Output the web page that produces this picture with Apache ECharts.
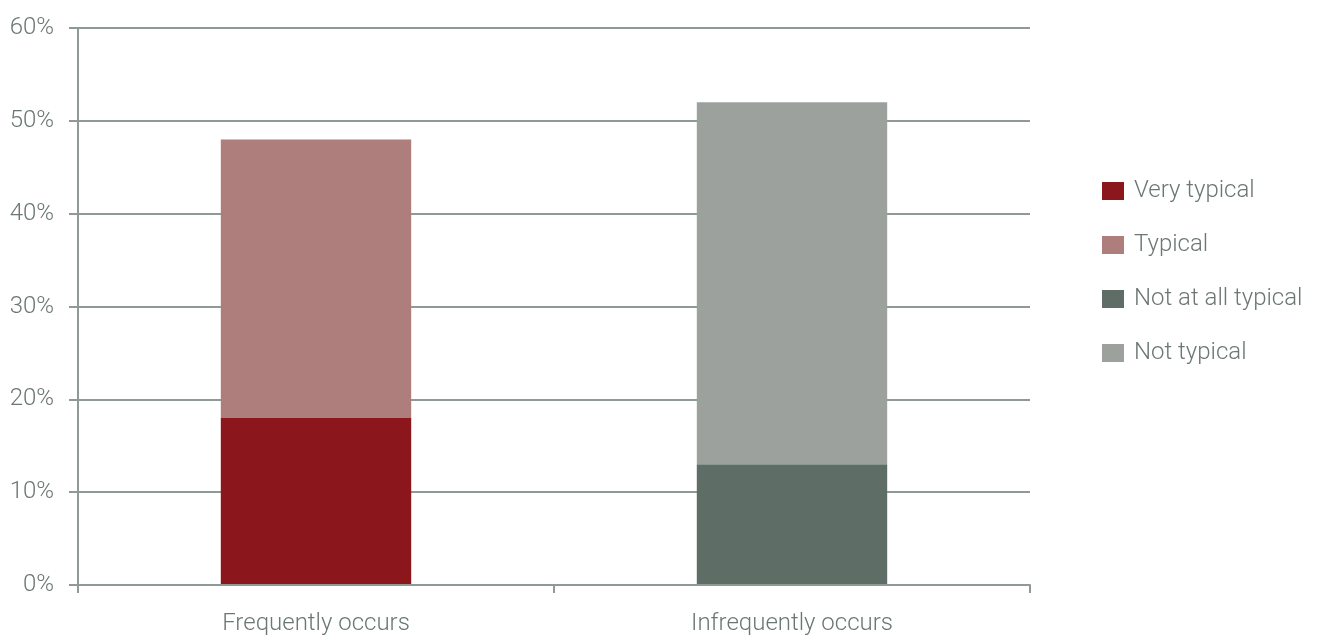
<!DOCTYPE html>
<html>
<head>
<meta charset="utf-8">
<script src="https://cdn.jsdelivr.net/npm/echarts@6/dist/echarts.min.js"></script>
<style>
  html, body { margin: 0; padding: 0; background: #ffffff; }
  #chart { width: 1317px; height: 639px; }
</style>
</head>
<body>
<div id="chart"></div>
<script>
// Categories on the x axis
const categories = ['Frequently occurs', 'Infrequently occurs'];

// Stacked shares (percent) per response
const veryTypical = [18, '-'];
const typical = [30, '-'];
const notAtAllTypical = ['-', 13];
const notTypical = ['-', 39];

const seriesNames = ['Very typical', 'Typical', 'Not at all typical', 'Not typical'];
const seriesColors = ['#8b161c', '#ad7e7c', '#5e6e66', '#9ca19e'];
const seriesValues = [veryTypical, typical, notAtAllTypical, notTypical];

const textColor = '#6b7772';
const lineColor = '#8f9a96';
const fontFamily = 'Roboto, "Liberation Sans", sans-serif';

const chart = echarts.init(document.getElementById('chart'));

chart.setOption({
  animation: false,
  textStyle: { fontFamily: fontFamily },
  grid: { left: 78, right: 287, top: 28, bottom: 54, containLabel: false },
  legend: {
    orient: 'vertical',
    left: 1097,
    top: 174,
    itemWidth: 22,
    itemHeight: 18,
    itemGap: 30,
    icon: 'rect',
    data: seriesNames,
    textStyle: { color: textColor, fontSize: 24, fontWeight: 300, fontFamily: fontFamily, padding: [0, 0, 0, 5] }
  },
  xAxis: {
    type: 'category',
    data: categories,
    z: 3,
    axisLine: { show: true, lineStyle: { color: lineColor, width: 2 } },
    axisTick: { show: true, length: 8, lineStyle: { color: lineColor, width: 2 } },
    axisLabel: { color: textColor, fontSize: 24, fontWeight: 300, margin: 27 }
  },
  yAxis: {
    type: 'value',
    min: 0,
    max: 60,
    interval: 10,
    axisLine: { show: true, lineStyle: { color: lineColor, width: 2 } },
    axisTick: { show: true, length: 9, lineStyle: { color: lineColor, width: 2 } },
    axisLabel: { color: textColor, fontSize: 24, fontWeight: 300, margin: 24, formatter: '{value}%' },
    splitLine: { show: true, lineStyle: { color: lineColor, width: 2 } }
  },
  series: seriesNames.map((name, i) => ({
    name: name,
    type: 'bar',
    stack: 'total',
    barWidth: '40%',
    itemStyle: { color: seriesColors[i] },
    data: seriesValues[i]
  }))
});
</script>
</body>
</html>
